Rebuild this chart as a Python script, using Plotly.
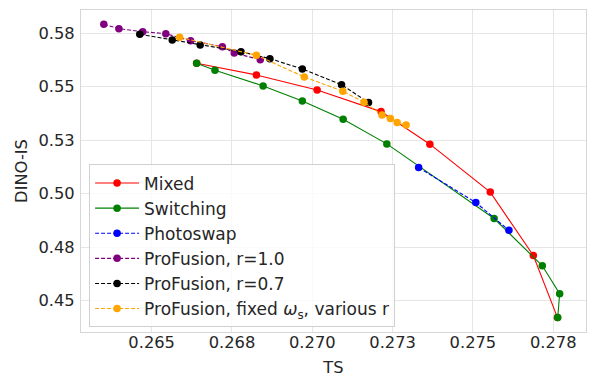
import plotly.graph_objects as go

# ---- data ----
mixed_x = [0.26640, 0.26826, 0.27015, 0.27214, 0.27366, 0.27554, 0.27688, 0.27763]
mixed_y = [0.56099, 0.55553, 0.54852, 0.53839, 0.52317, 0.50076, 0.47115, 0.44220]

switch_x = [0.26640, 0.26697, 0.26847, 0.26969, 0.27096, 0.27232, 0.27566, 0.27716, 0.27770, 0.27764]
switch_y = [0.56099, 0.55772, 0.55039, 0.54339, 0.53484, 0.52331, 0.48843, 0.46634, 0.45327, 0.44220]

photo_x = [0.27331, 0.27509, 0.27612]
photo_y = [0.51224, 0.49590, 0.48292]

pf10_x = [0.26351, 0.26398, 0.26472, 0.26544, 0.26621, 0.26720, 0.26757, 0.26838]
pf10_y = [0.57920, 0.57715, 0.57575, 0.57481, 0.57154, 0.56874, 0.56580, 0.56267]

pf07_x = [0.26463, 0.26564, 0.26651, 0.26778, 0.26868, 0.26969, 0.27091, 0.27175]
pf07_y = [0.57453, 0.57187, 0.56954, 0.56641, 0.56314, 0.55833, 0.55100, 0.54259]

pffix_x = [0.26587, 0.26826, 0.26975, 0.27095, 0.27161, 0.27217, 0.27243, 0.27264, 0.27292]
pffix_y = [0.57313, 0.56473, 0.55460, 0.54792, 0.54278, 0.53685, 0.53512, 0.53326, 0.53218]

x_ticks = [0.265, 0.2675, 0.27, 0.2725, 0.275, 0.2775]
x_labels = ["0.265", "0.268", "0.270", "0.273", "0.275", "0.278"]
y_ticks = [0.45, 0.475, 0.5, 0.525, 0.55, 0.575]
y_labels = ["0.45", "0.48", "0.50", "0.53", "0.55", "0.58"]

series = [
    ("Mixed", mixed_x, mixed_y, "red", "solid"),
    ("Switching", switch_x, switch_y, "green", "solid"),
    ("Photoswap", photo_x, photo_y, "blue", "dash"),
    ("ProFusion, r=1.0", pf10_x, pf10_y, "purple", "dash"),
    ("ProFusion, r=0.7", pf07_x, pf07_y, "black", "dash"),
    ("ProFusion, fixed <i>ω</i><sub>s</sub>, various r", pffix_x, pffix_y, "orange", "dash"),
]

fig = go.Figure()
for i, (name, xs, ys, col, dash) in enumerate(series):
    fig.add_trace(go.Scatter(
        x=xs, y=ys, name=name, mode="lines+markers", legendgroup=f"g{i}",
        line=dict(color=col, width=1.1, dash="4px,2px" if dash == "dash" else "solid"),
        marker=dict(color=col, size=7.5),
    ))

font_col = "#262626"
fig.update_layout(
    width=598, height=390,
    margin=dict(l=81, r=12, t=10, b=58),
    paper_bgcolor="white", plot_bgcolor="white",
    font=dict(family="DejaVu Sans", size=16.3, color=font_col),
    showlegend=True,
    legend=dict(
        x=0.016, y=0.014, xanchor="left", yanchor="bottom",
        bgcolor="rgba(255,255,255,0.8)", bordercolor="#d0d0d0", borderwidth=1,
        font=dict(size=17, color=font_col), tracegroupgap=0, itemwidth=44,
    ),
)
fig.update_xaxes(
    range=[0.2628, 0.27852], tickvals=x_ticks, ticktext=x_labels,
    showgrid=True, gridcolor="#e6e6e6", gridwidth=1,
    showline=True, linecolor="#d6d6d6", linewidth=1, mirror=True,
    zeroline=False, ticks="", automargin=False, ticklabelstandoff=-5,
    title=dict(text="TS", standoff=11, font=dict(size=16.3)),
)
fig.update_yaxes(
    range=[0.435385, 0.58588], tickvals=y_ticks, ticktext=y_labels,
    showgrid=True, gridcolor="#e6e6e6", gridwidth=1,
    showline=True, linecolor="#d6d6d6", linewidth=1, mirror=True,
    zeroline=False, ticks="", automargin=False, ticklabelstandoff=2,
    title=dict(text="DINO-IS", standoff=6, font=dict(size=16.3)),
)

fig.write_html(
    "out.html",
    config={"displayModeBar": False},
    post_script="document.body.style.margin='0';document.body.style.overflow='hidden';",
)
